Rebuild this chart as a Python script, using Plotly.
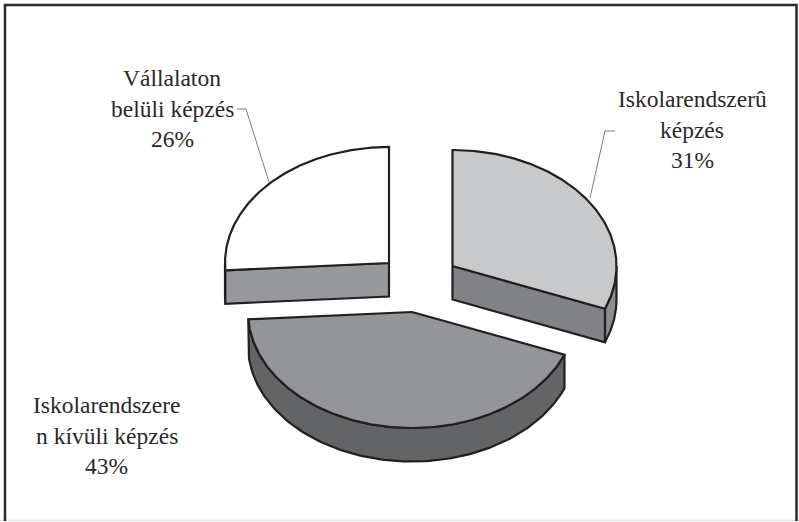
import numpy as np
import plotly.graph_objects as go

# Data
CATEGORIES = ["Iskolarendszerû képzés", "Iskolarendszeren kívüli képzés", "Vállalaton belüli képzés"]
SHARES = [31, 43, 26]
LABEL_LINES = [
    ["Iskolarendszerû", "képzés", "31%"],
    ["Iskolarendsz" + "ere", "n kívüli képzés", "43%"],
    ["Vállalaton", "belüli képzés", "26%"],
]

# Styles and layout
TOP_COLORS = ["#c8c9cb", "#939598", "#ffffff"]
CUT_COLORS = ["#808285", "#636466", "#97989b"]
RIM_COLORS = ["#8a8c8f", "#636466", "#97989b"]
CENTERS = [(452.5, 266), (412, 312), (389, 263)]
LABEL_POS = [(692, 99), (106.5, 405), (172, 78)]
LEADERS = [[(615, 131), (605, 131), (590, 198)], [], [(237, 109), (246, 109), (269, 182)]]
RX, RY, DEPTH = 164, 116, 33.5
LINE_STEP = 30.5
INK = "#231f20"

fig = go.Figure()


def arc(cx, cy, t0, t1, n=120, dy=0):
    t = np.radians(np.linspace(t0, t1, n))
    return cx + RX * np.sin(t), cy - RY * np.cos(t) + dy


def poly(x, y, fill, width=2.2, color=INK):
    fig.add_trace(go.Scatter(
        x=np.append(x, x[0]), y=np.append(y, y[0]), mode="lines", fill="toself",
        fillcolor=fill, line=dict(color=color, width=width),
        hoverinfo="skip", showlegend=False))


edges = np.cumsum([0] + SHARES) * 3.6
order = [0, 2, 1]
for i in order:
    t0, t1 = edges[i], edges[i + 1]
    cx, cy = CENTERS[i]
    # outer rim (only the part on the near side of the ellipse)
    r0, r1 = max(t0, 90), min(t1, 270)
    if r1 > r0:
        xa, ya = arc(cx, cy, r0, r1)
        xb, yb = arc(cx, cy, r1, r0, dy=DEPTH)
        poly(np.r_[xa, xb], np.r_[ya, yb], RIM_COLORS[i])
    # flat cut faces visible to the viewer
    for t in (t0, t1):
        ex, ey = arc(cx, cy, t, t, n=1)
        facing = (i == 0 and t == t1) or (i == 2 and t == t0)
        if facing:
            poly(np.array([cx, ex[0], ex[0], cx]),
                 np.array([cy, ey[0], ey[0] + DEPTH, cy + DEPTH]), CUT_COLORS[i])
    # top surface
    xa, ya = arc(cx, cy, t0, t1, n=240)
    poly(np.r_[cx, xa], np.r_[cy, ya], TOP_COLORS[i])

for pts in LEADERS:
    if pts:
        xs, ys = zip(*pts)
        fig.add_trace(go.Scatter(x=xs, y=ys, mode="lines", line=dict(color="#58595b", width=0.8),
                                 hoverinfo="skip", showlegend=False))

for lines, (lx, ly) in zip(LABEL_LINES, LABEL_POS):
    for k, line in enumerate(lines):
        fig.add_annotation(x=lx, y=ly + k * LINE_STEP, text=line, showarrow=False,
                           xanchor="center", yanchor="middle",
                           font=dict(family="Liberation Serif", size=23.5, color="#2b2829"))

fig.add_shape(type="line", x0=0, y0=520.5, x1=799, y1=520.5, layer="below",
              line=dict(color="#e4e4e4", width=1.5))
fig.add_shape(type="path", path="M 5 521 L 5 5 L 796.5 5 L 796.5 521", layer="below",
              line=dict(color="#2a2a2a", width=2.5))
fig.update_layout(
    width=799, height=522, autosize=False, margin=dict(l=0, r=0, t=0, b=0),
    paper_bgcolor="#ffffff", plot_bgcolor="#ffffff", showlegend=False,
    xaxis=dict(range=[0, 799], visible=False, fixedrange=True),
    yaxis=dict(range=[522, 0], visible=False, fixedrange=True),
)
fig.write_html("out.html", config={"displayModeBar": False},
               post_script="document.body.style.margin='0';document.body.style.overflow='hidden';")
